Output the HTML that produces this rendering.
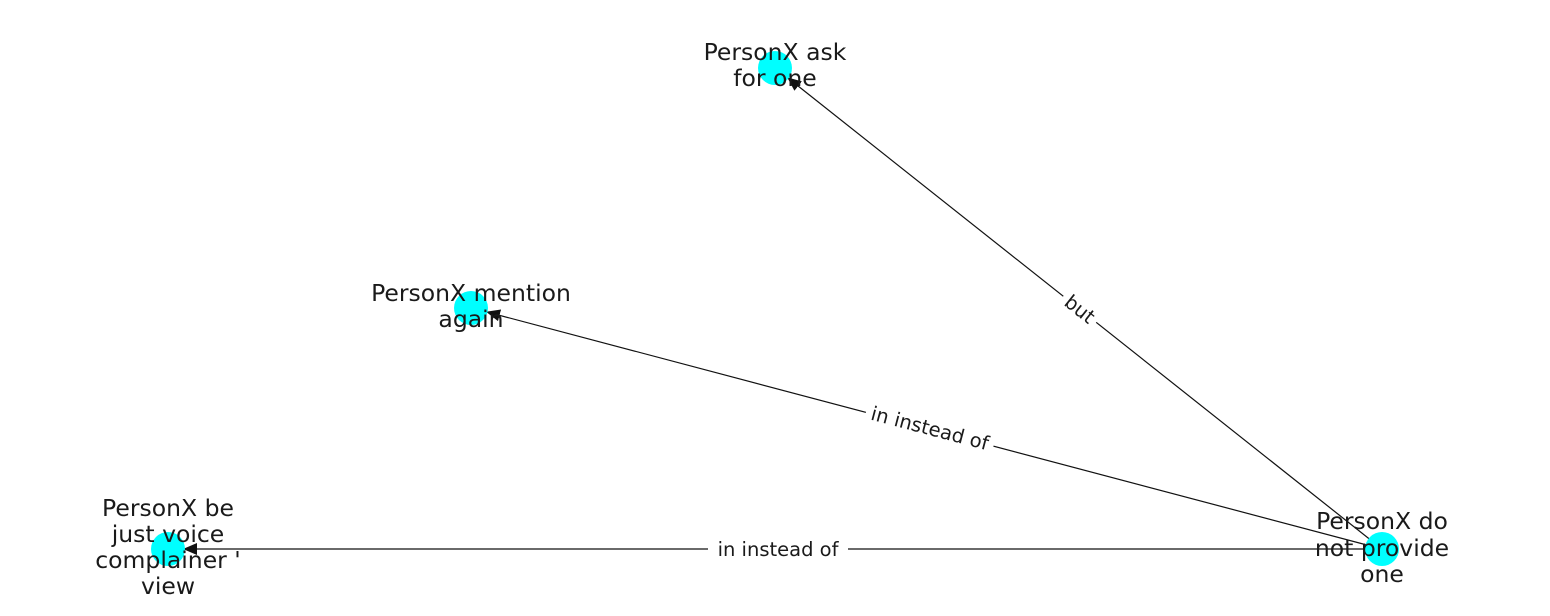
<!DOCTYPE html>
<html><head><meta charset="utf-8"><style>
html,body{margin:0;padding:0;background:#fff;}
svg{display:block;}
text{font-family:"DejaVu Sans","Liberation Sans",sans-serif;fill:#1a1a1a;}
</style></head><body>
<svg width="1550" height="616" viewBox="0 0 1550 616" xmlns="http://www.w3.org/2000/svg">
<defs>
<marker id="a" markerWidth="14" markerHeight="12" refX="13" refY="6" orient="auto" markerUnits="userSpaceOnUse">
<path d="M0,0 L14,6 L0,12 z" fill="#111"/>
</marker>
</defs>
<g stroke="#111" stroke-width="1.2" fill="none">
<line x1="1382" y1="549" x2="788" y2="78" marker-end="url(#a)"/>
<line x1="1382" y1="549" x2="487" y2="312" marker-end="url(#a)"/>
<line x1="1382" y1="549" x2="184" y2="549" marker-end="url(#a)"/>
</g>
<g fill="#00ffff">
<circle cx="775" cy="68" r="17"/>
<circle cx="471" cy="308" r="17"/>
<circle cx="168" cy="549" r="17"/>
<circle cx="1382" cy="549" r="17"/>
</g>
<g font-size="19.5" text-anchor="middle">
<g transform="translate(1080,309) rotate(38.4)"><rect x="-21" y="-13" width="42" height="26" fill="#fff"/><text x="0" y="7">but</text></g>
<g transform="translate(930,428) rotate(14.8)"><rect x="-66" y="-13" width="132" height="26" fill="#fff"/><text x="0" y="7">in instead of</text></g>
<g transform="translate(778,549)"><rect x="-70" y="-13" width="140" height="26" fill="#fff"/><text x="0" y="7">in instead of</text></g>
</g>
<g font-size="23.5" text-anchor="middle">
<text x="775" y="60">PersonX ask</text><text x="775" y="86">for one</text>
<text x="471" y="301">PersonX mention</text><text x="471" y="327">again</text>
<text x="168" y="516">PersonX be</text><text x="168" y="542">just voice</text><text x="168" y="568">complainer '</text><text x="168" y="594">view</text>
<text x="1382" y="529">PersonX do</text><text x="1382" y="556">not provide</text><text x="1382" y="582">one</text>
</g>
</svg>
</body></html>
